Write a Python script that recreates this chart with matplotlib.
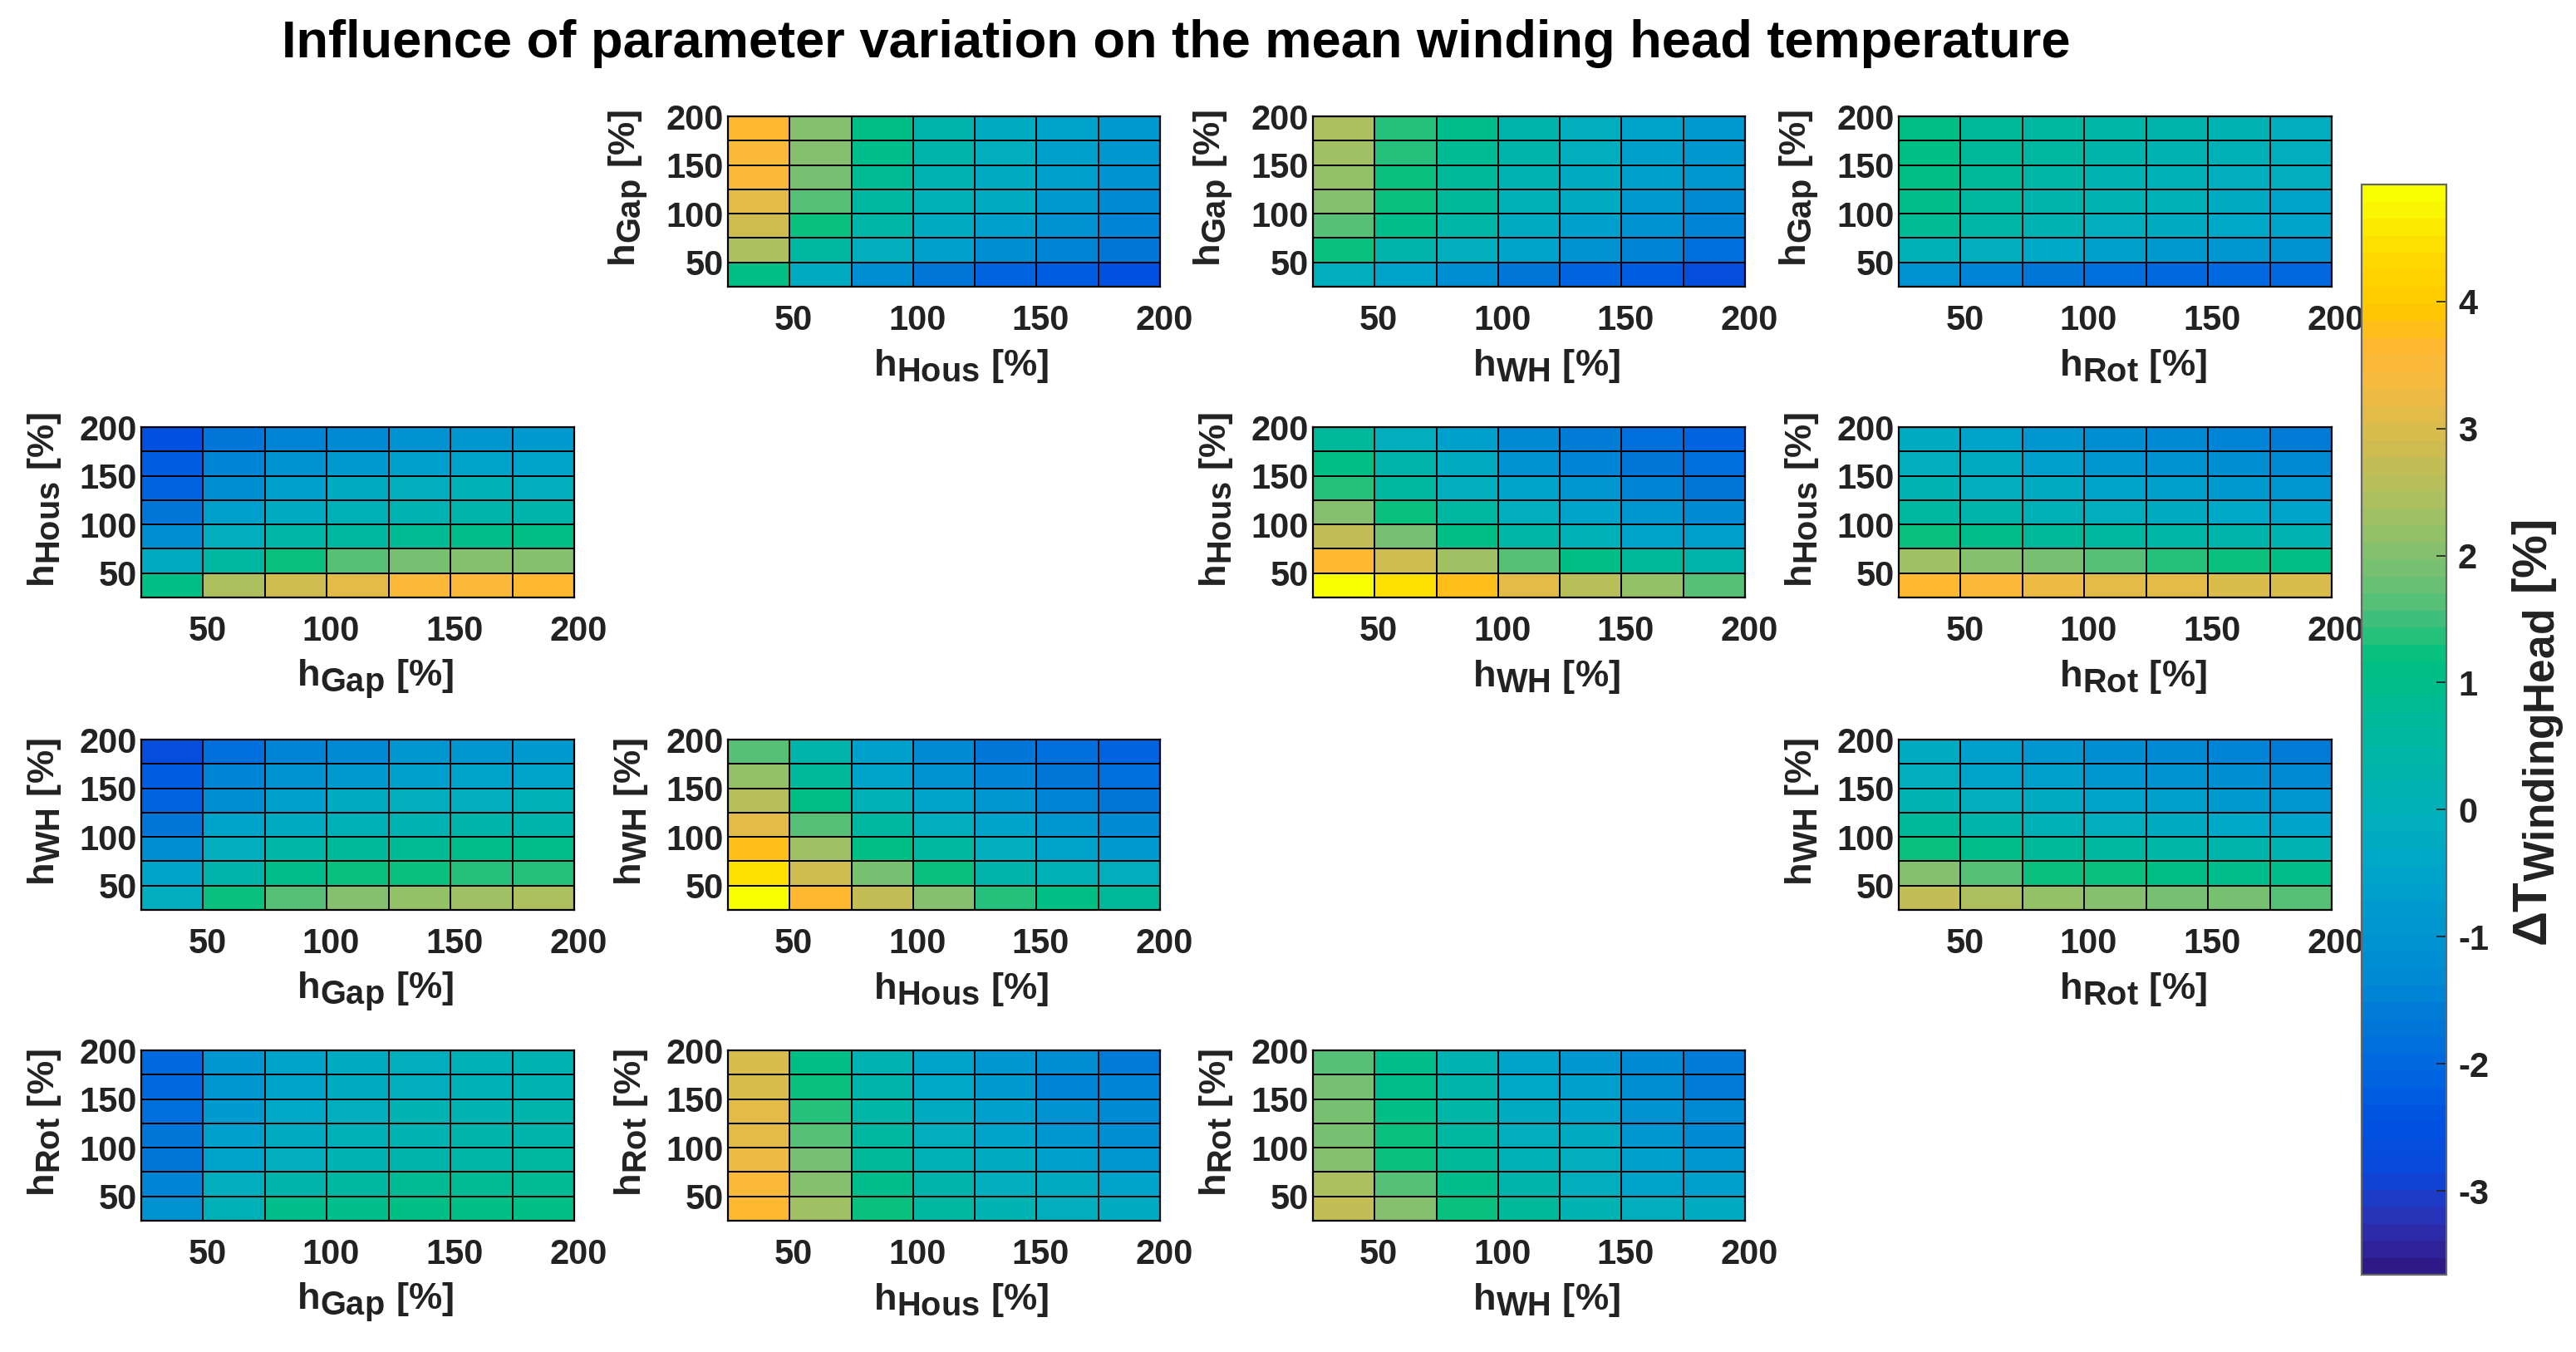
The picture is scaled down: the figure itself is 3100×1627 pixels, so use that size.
import numpy as np
import matplotlib
matplotlib.use("Agg")
import matplotlib.pyplot as plt
from matplotlib.colors import LinearSegmentedColormap, Normalize
from matplotlib.transforms import ScaledTranslation
from matplotlib import _mathtext

# subscripts in the original are barely smaller than the base text
_mathtext.SHRINK_FACTOR = 0.88

plt.rcParams["font.family"] = ["Liberation Sans", "DejaVu Sans"]
plt.rcParams["font.weight"] = "bold"
plt.rcParams["axes.labelweight"] = "bold"
plt.rcParams["axes.unicode_minus"] = False
plt.rcParams["mathtext.fontset"] = "custom"
plt.rcParams["mathtext.rm"] = "Liberation Sans:bold"
plt.rcParams["mathtext.sf"] = "Liberation Sans"
plt.rcParams["mathtext.default"] = "regular"

W, H = 3100, 1627
VMIN, VMAX = -3.66, 4.92

# rows run from 200 % (top) to 50 % (bottom)
gap_hous = [[3.6, 2.0, 1.1, 0.3, -0.2, -0.5, -0.8],
            [3.5, 2.0, 0.9, 0.3, -0.1, -0.6, -0.9],
            [3.45, 1.85, 0.8, 0.1, -0.3, -0.6, -1.0],
            [3.1, 1.6, 0.6, 0.0, -0.3, -0.75, -1.25],
            [2.8, 1.25, 0.4, -0.25, -0.6, -1.0, -1.4],
            [2.4, 0.6, -0.15, -0.6, -1.15, -1.5, -1.7],
            [1.1, -0.3, -1.15, -1.75, -2.1, -2.25, -2.5]]
gap_wh = [[2.4, 1.4, 0.9, 0.35, -0.1, -0.5, -0.8],
          [2.3, 1.4, 0.8, 0.3, -0.1, -0.6, -0.9],
          [2.15, 1.25, 0.75, 0.1, -0.25, -0.6, -0.95],
          [2.0, 1.2, 0.65, 0.0, -0.3, -0.75, -1.25],
          [1.6, 0.95, 0.45, -0.2, -0.6, -1.0, -1.4],
          [1.25, 0.35, -0.1, -0.55, -1.05, -1.5, -1.8],
          [-0.1, -0.55, -1.2, -1.75, -2.1, -2.25, -2.7]]
gap_rot = [[1.15, 0.75, 0.6, 0.4, 0.25, 0.15, -0.1],
           [1.15, 0.75, 0.5, 0.35, 0.2, 0.05, -0.1],
           [1.15, 0.65, 0.4, 0.2, 0.05, -0.05, -0.15],
           [0.95, 0.6, 0.35, 0.15, 0.0, -0.2, -0.5],
           [0.85, 0.4, 0.1, -0.05, -0.2, -0.4, -0.55],
           [0.05, -0.15, -0.4, -0.6, -0.75, -0.9, -1.0],
           [-1.1, -1.4, -1.65, -1.8, -1.95, -2.0, -2.0]]
hous_gap = [[-2.5, -1.7, -1.5, -1.25, -1.0, -0.9, -0.8],
            [-2.25, -1.5, -1.0, -0.75, -0.6, -0.5, -0.45],
            [-2.1, -1.15, -0.6, -0.3, -0.1, 0.0, -0.05],
            [-1.75, -0.6, -0.25, 0.0, 0.1, 0.3, 0.3],
            [-1.15, -0.15, 0.4, 0.6, 0.8, 0.9, 1.1],
            [-0.3, 0.6, 1.25, 1.6, 1.85, 2.0, 2.0],
            [1.1, 2.4, 2.8, 3.1, 3.45, 3.5, 3.6]]
hous_wh = [[0.7, -0.1, -0.65, -1.25, -1.6, -1.8, -2.1],
           [1.15, 0.3, -0.3, -1.0, -1.4, -1.7, -1.9],
           [1.4, 0.6, -0.1, -0.5, -0.85, -1.4, -1.65],
           [2.0, 1.25, 0.5, -0.15, -0.5, -0.95, -1.35],
           [2.65, 1.85, 1.15, 0.45, 0.05, -0.45, -0.65],
           [3.65, 2.8, 2.3, 1.6, 1.15, 0.75, 0.35],
           [4.92, 4.4, 3.75, 3.1, 2.6, 2.15, 1.6]]
hous_rot = [[-0.2, -0.5, -0.85, -1.15, -1.3, -1.4, -1.55],
            [-0.1, -0.3, -0.6, -0.95, -1.05, -1.15, -1.3],
            [0.1, -0.05, -0.3, -0.5, -0.65, -0.8, -0.9],
            [0.5, 0.25, 0.05, -0.05, -0.2, -0.4, -0.5],
            [1.2, 0.95, 0.65, 0.5, 0.4, 0.25, 0.15],
            [2.25, 2.0, 1.85, 1.6, 1.4, 1.2, 1.15],
            [3.6, 3.45, 3.25, 3.1, 3.05, 3.0, 2.95]]
wh_gap = [[-2.7, -1.8, -1.4, -1.25, -0.95, -0.9, -0.8],
          [-2.25, -1.5, -1.05, -0.75, -0.6, -0.5, -0.45],
          [-2.1, -1.2, -0.6, -0.3, -0.1, -0.05, 0.0],
          [-1.75, -0.55, -0.2, 0.05, 0.15, 0.35, 0.35],
          [-1.2, -0.1, 0.45, 0.65, 0.8, 0.9, 0.95],
          [-0.55, 0.35, 0.95, 1.2, 1.25, 1.4, 1.4],
          [-0.1, 1.25, 1.6, 2.0, 2.15, 2.3, 2.45]]
wh_hous = [[1.6, 0.35, -0.65, -1.35, -1.65, -1.9, -2.1],
           [2.15, 0.65, -0.45, -1.0, -1.4, -1.7, -1.9],
           [2.6, 1.15, 0.05, -0.5, -0.85, -1.4, -1.65],
           [3.1, 1.6, 0.5, -0.15, -0.5, -0.95, -1.35],
           [3.75, 2.3, 1.15, 0.5, -0.1, -0.45, -0.75],
           [4.4, 2.8, 1.85, 1.25, 0.3, 0.0, -0.1],
           [4.92, 3.65, 2.65, 2.0, 1.4, 1.15, 0.7]]
wh_rot = [[-0.3, -0.6, -0.95, -1.2, -1.3, -1.5, -1.6],
          [-0.1, -0.45, -0.6, -0.9, -1.0, -1.15, -1.35],
          [0.2, -0.1, -0.3, -0.5, -0.65, -0.8, -0.95],
          [0.65, 0.25, 0.05, -0.05, -0.25, -0.4, -0.55],
          [1.25, 0.9, 0.75, 0.6, 0.4, 0.25, 0.15],
          [2.0, 1.6, 1.25, 1.2, 1.1, 1.0, 0.9],
          [2.7, 2.45, 2.2, 2.0, 1.95, 1.85, 1.6]]
rot_gap = [[-2.0, -0.95, -0.55, -0.3, -0.05, 0.0, 0.1],
           [-2.0, -0.9, -0.5, -0.2, -0.05, 0.05, 0.2],
           [-1.85, -0.8, -0.4, -0.1, 0.1, 0.15, 0.25],
           [-1.75, -0.65, -0.2, 0.0, 0.2, 0.3, 0.35],
           [-1.65, -0.5, -0.1, 0.15, 0.35, 0.45, 0.6],
           [-1.4, -0.15, 0.35, 0.6, 0.8, 0.8, 0.8],
           [-1.1, 0.05, 0.9, 1.0, 1.15, 1.15, 1.15]]
rot_hous = [[2.95, 1.15, 0.15, -0.5, -0.9, -1.15, -1.55],
            [3.0, 1.2, 0.25, -0.4, -0.8, -1.4, -1.4],
            [3.05, 1.4, 0.4, -0.2, -0.65, -1.05, -1.3],
            [3.1, 1.6, 0.5, -0.05, -0.5, -0.95, -1.15],
            [3.25, 1.85, 0.65, 0.05, -0.3, -0.6, -0.85],
            [3.45, 2.0, 0.95, 0.25, -0.05, -0.3, -0.5],
            [3.6, 2.25, 1.2, 0.5, 0.1, -0.1, -0.2]]
rot_wh = [[1.6, 0.9, 0.15, -0.55, -0.95, -1.35, -1.6],
          [1.85, 1.0, 0.25, -0.4, -0.65, -1.15, -1.6],
          [1.85, 1.1, 0.4, -0.25, -0.5, -1.0, -1.35],
          [1.95, 1.2, 0.6, -0.05, -0.3, -0.9, -1.3],
          [2.1, 1.25, 0.75, 0.05, -0.1, -0.6, -0.95],
          [2.45, 1.6, 0.9, 0.25, -0.05, -0.45, -0.6],
          [2.7, 2.0, 1.25, 0.65, 0.2, -0.1, -0.3]]

x_edges = [25, 50, 75, 100, 125, 150, 175, 200]
y_edges = [200, 175, 150, 125, 100, 75, 50, 25]
ticks = [50, 100, 150, 200]
cbar_ticks = [-3, -2, -1, 0, 1, 2, 3, 4]

# value -> colour
cmap_values = [-3.66, -3.3, -2.9, -2.5, -2.1, -1.7, -1.4, -0.9, -0.4, 0.0, 0.6, 1.2,
               1.6, 2.0, 2.4, 2.9, 3.4, 3.7, 4.0, 4.4, 4.92]
cmap_colors = ["#2E1A87", "#2B30B5", "#0A48DA", "#0052E0", "#0066E0", "#0078D8",
               "#0088D4", "#0098D0", "#00A8C8", "#00B0B8", "#00B8A0", "#00C080",
               "#50C078", "#80C070", "#A8C060", "#D0BC50", "#F5BA40", "#FFB830",
               "#FFC800", "#FFD800", "#F8FF00"]

col_px = [(170, 691), (876, 1396), (1580, 2100), (2285, 2806)]
row_px = [(140, 345), (514, 719), (890, 1095), (1264, 1469)]


def pix_axes(fig, left, right, top, bottom):
    return fig.add_axes([left / W, 1 - bottom / H, (right - left) / W, (bottom - top) / H])


def label(name):
    return r"h$_{\mathregular{%s}}$ [%%]" % name


def draw_panel(fig, row, col, xname, yname, values, cmap, norm):
    ax = pix_axes(fig, col_px[col][0], col_px[col][1], row_px[row][0], row_px[row][1])
    ax.pcolormesh(x_edges, y_edges, np.array(values), cmap=cmap, norm=norm,
                  edgecolors="black", linewidth=1.4)
    ax.set_xlim(25, 200)
    ax.set_ylim(25, 200)
    ax.set_xticks(ticks)
    ax.set_yticks(ticks)
    ax.tick_params(axis="x", length=0, labelsize=30, pad=15, colors="#222222")
    ax.tick_params(axis="y", length=0, labelsize=30, pad=4, colors="#222222")
    # tick labels sit a few pixels right of their gridlines in the original
    shift = ScaledTranslation(5 / 100, 0, fig.dpi_scale_trans)
    for t in ax.get_xticklabels():
        t.set_transform(t.get_transform() + shift)
    for s in ax.spines.values():
        s.set_linewidth(1.6)
    ax.set_xlabel(label(xname), fontsize=32.5, color="#222222")
    ax.set_ylabel(label(yname), fontsize=32.5, color="#222222")
    ax.xaxis.set_label_coords(0.54, -0.355)
    ax.yaxis.set_label_coords(-0.18, 0.575)
    return ax


def main():
    frac = (np.array(cmap_values) - VMIN) / (VMAX - VMIN)
    cmap = LinearSegmentedColormap.from_list("bar", list(zip(frac, cmap_colors)), N=64)
    norm = Normalize(VMIN, VMAX)

    fig = plt.figure(figsize=(W / 100, H / 100), dpi=100)

    draw_panel(fig, 0, 1, "Hous", "Gap", gap_hous, cmap, norm)
    draw_panel(fig, 0, 2, "WH", "Gap", gap_wh, cmap, norm)
    draw_panel(fig, 0, 3, "Rot", "Gap", gap_rot, cmap, norm)
    draw_panel(fig, 1, 0, "Gap", "Hous", hous_gap, cmap, norm)
    draw_panel(fig, 1, 2, "WH", "Hous", hous_wh, cmap, norm)
    draw_panel(fig, 1, 3, "Rot", "Hous", hous_rot, cmap, norm)
    draw_panel(fig, 2, 0, "Gap", "WH", wh_gap, cmap, norm)
    draw_panel(fig, 2, 1, "Hous", "WH", wh_hous, cmap, norm)
    draw_panel(fig, 2, 3, "Rot", "WH", wh_rot, cmap, norm)
    draw_panel(fig, 3, 0, "Gap", "Rot", rot_gap, cmap, norm)
    draw_panel(fig, 3, 1, "Hous", "Rot", rot_hous, cmap, norm)
    draw_panel(fig, 3, 2, "WH", "Rot", rot_wh, cmap, norm)

    fig.text(1415 / W, 1 - 52 / H, "Influence of parameter variation on the mean winding head temperature",
             fontsize=45.5, ha="center", va="center", color="black")

    cax = pix_axes(fig, 2842, 2944, 222, 1534)
    cax.set_zorder(5)
    cb = fig.colorbar(plt.cm.ScalarMappable(norm=norm, cmap=cmap), cax=cax, ticks=cbar_ticks)
    cb.outline.set_edgecolor("#666666")
    cb.outline.set_linewidth(1.6)
    cax.tick_params(length=9, width=1.2, direction="in", labelsize=30, pad=10, colors="#222222")
    fig.text(3055 / W, 1 - 882 / H, r"$\mathsf{\Delta}$T$_{\mathregular{WindingHead}}$ [%]", rotation=90,
             fontsize=42, ha="center", va="center", color="#222222")

    fig.savefig("out.png", dpi=100)


if __name__ == "__main__":
    main()
